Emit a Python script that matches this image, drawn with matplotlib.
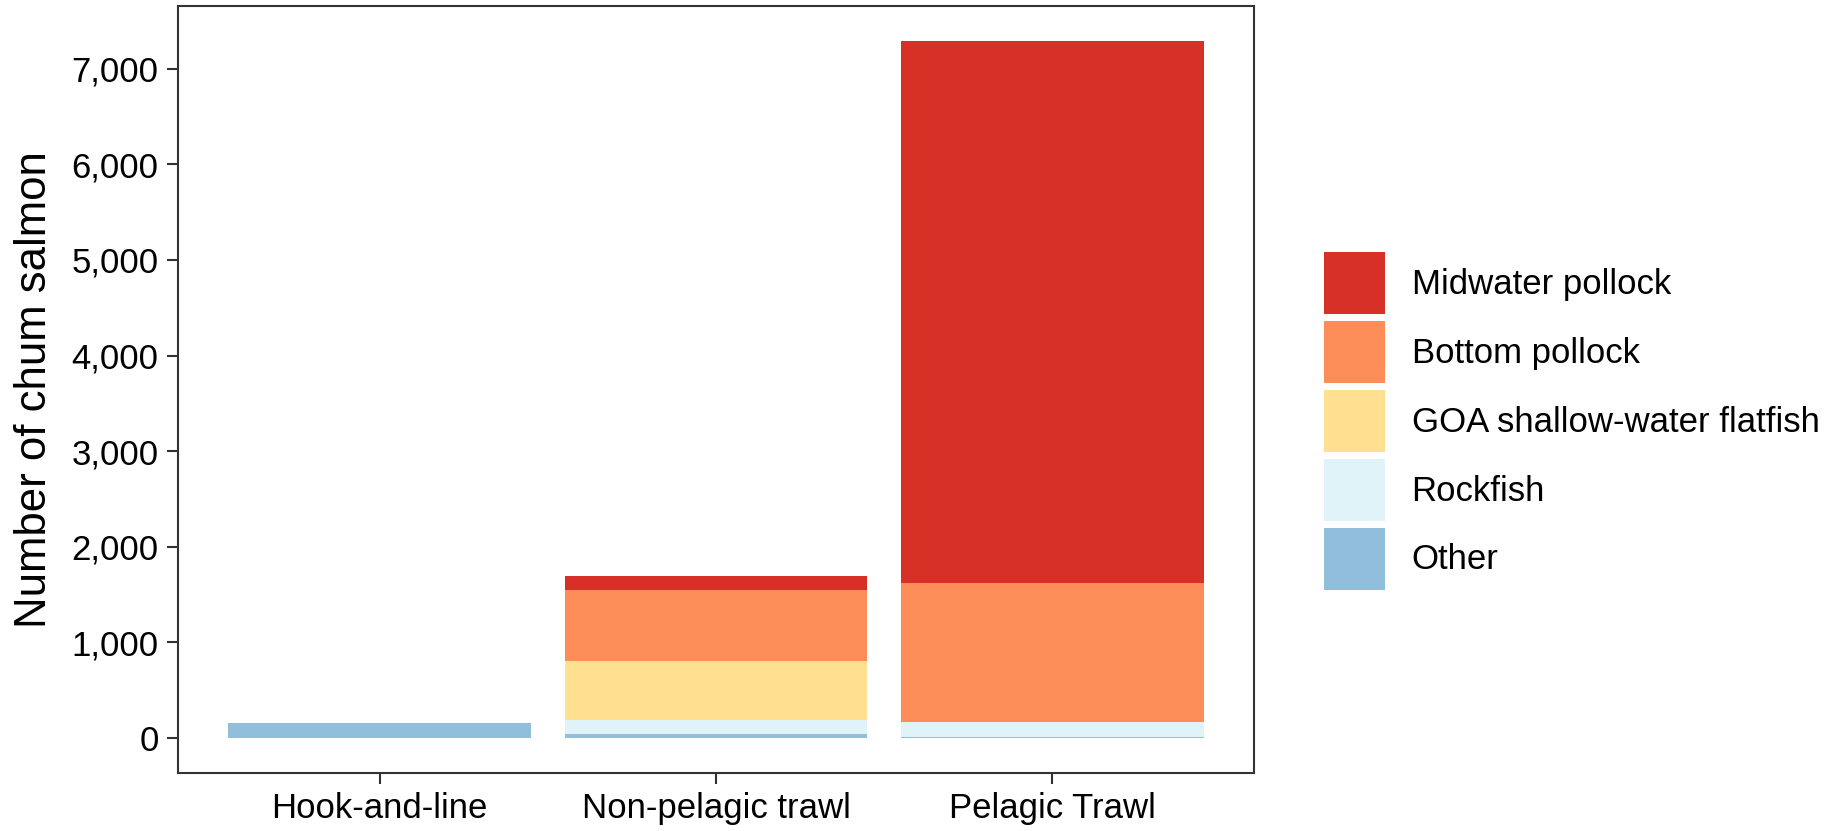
import matplotlib
matplotlib.use("Agg")
import matplotlib.pyplot as plt
from matplotlib.patches import Patch
from matplotlib.ticker import FuncFormatter
import numpy as np

plt.rcParams['font.family'] = ['Liberation Sans', 'DejaVu Sans']

categories = ["Hook-and-line", "Non-pelagic trawl", "Pelagic Trawl"]
series_names = ["Midwater pollock", "Bottom pollock", "GOA shallow-water flatfish", "Rockfish", "Other"]
midwater = [0, 152, 5665]
bottom = [0, 743, 1455]
goa = [0, 614, 0]
rockfish = [0, 146, 160]
other = [160, 45, 10]
colors = ["#D73027", "#FC8D59", "#FEE090", "#E0F3F8", "#91BFDB"]
yticks = [0, 1000, 2000, 3000, 4000, 5000, 6000, 7000]

W, H = 1837, 831
fig = plt.figure(figsize=(W / 100, H / 100), dpi=100)
ax = fig.add_axes([178 / W, 1 - 773 / H, (1254 - 178) / W, (773 - 6) / H])

x = np.arange(1, len(categories) + 1)
stack = [other, rockfish, goa, bottom, midwater]
stack_colors = colors[::-1]
base = np.zeros(len(categories))
for vals, c in zip(stack, stack_colors):
    v = np.array(vals, dtype=float)
    ax.bar(x, v, bottom=base, width=0.9, color=c, edgecolor='none', linewidth=0)
    base += v

ymax = base.max()
ax.set_ylim(-0.05 * ymax, 1.05 * ymax)
ax.set_xlim(0.4, len(categories) + 0.6)
ax.set_xticks(x)
ax.set_xticklabels(categories)
ax.set_yticks(yticks)
ax.yaxis.set_major_formatter(FuncFormatter(lambda v, p: f"{int(v):,}"))

for s in ax.spines.values():
    s.set_color('#333333')
    s.set_linewidth(1.5)
ax.tick_params(axis='both', length=8, width=1.5, color='#333333', labelsize=25,
               labelcolor='black', pad=6)
ax.set_ylabel("Number of chum salmon", fontsize=31.5, labelpad=12)

handles = [Patch(facecolor=c, edgecolor='none') for c in colors]
fig.legend(handles, series_names, loc='upper left',
           bbox_to_anchor=(1324 / W, 1 - 252 / H), frameon=False, fontsize=25,
           handlelength=1.77, handleheight=2.37, labelspacing=0.2,
           handletextpad=0.75, borderpad=0, borderaxespad=0)

fig.savefig("out.png", dpi=100)
